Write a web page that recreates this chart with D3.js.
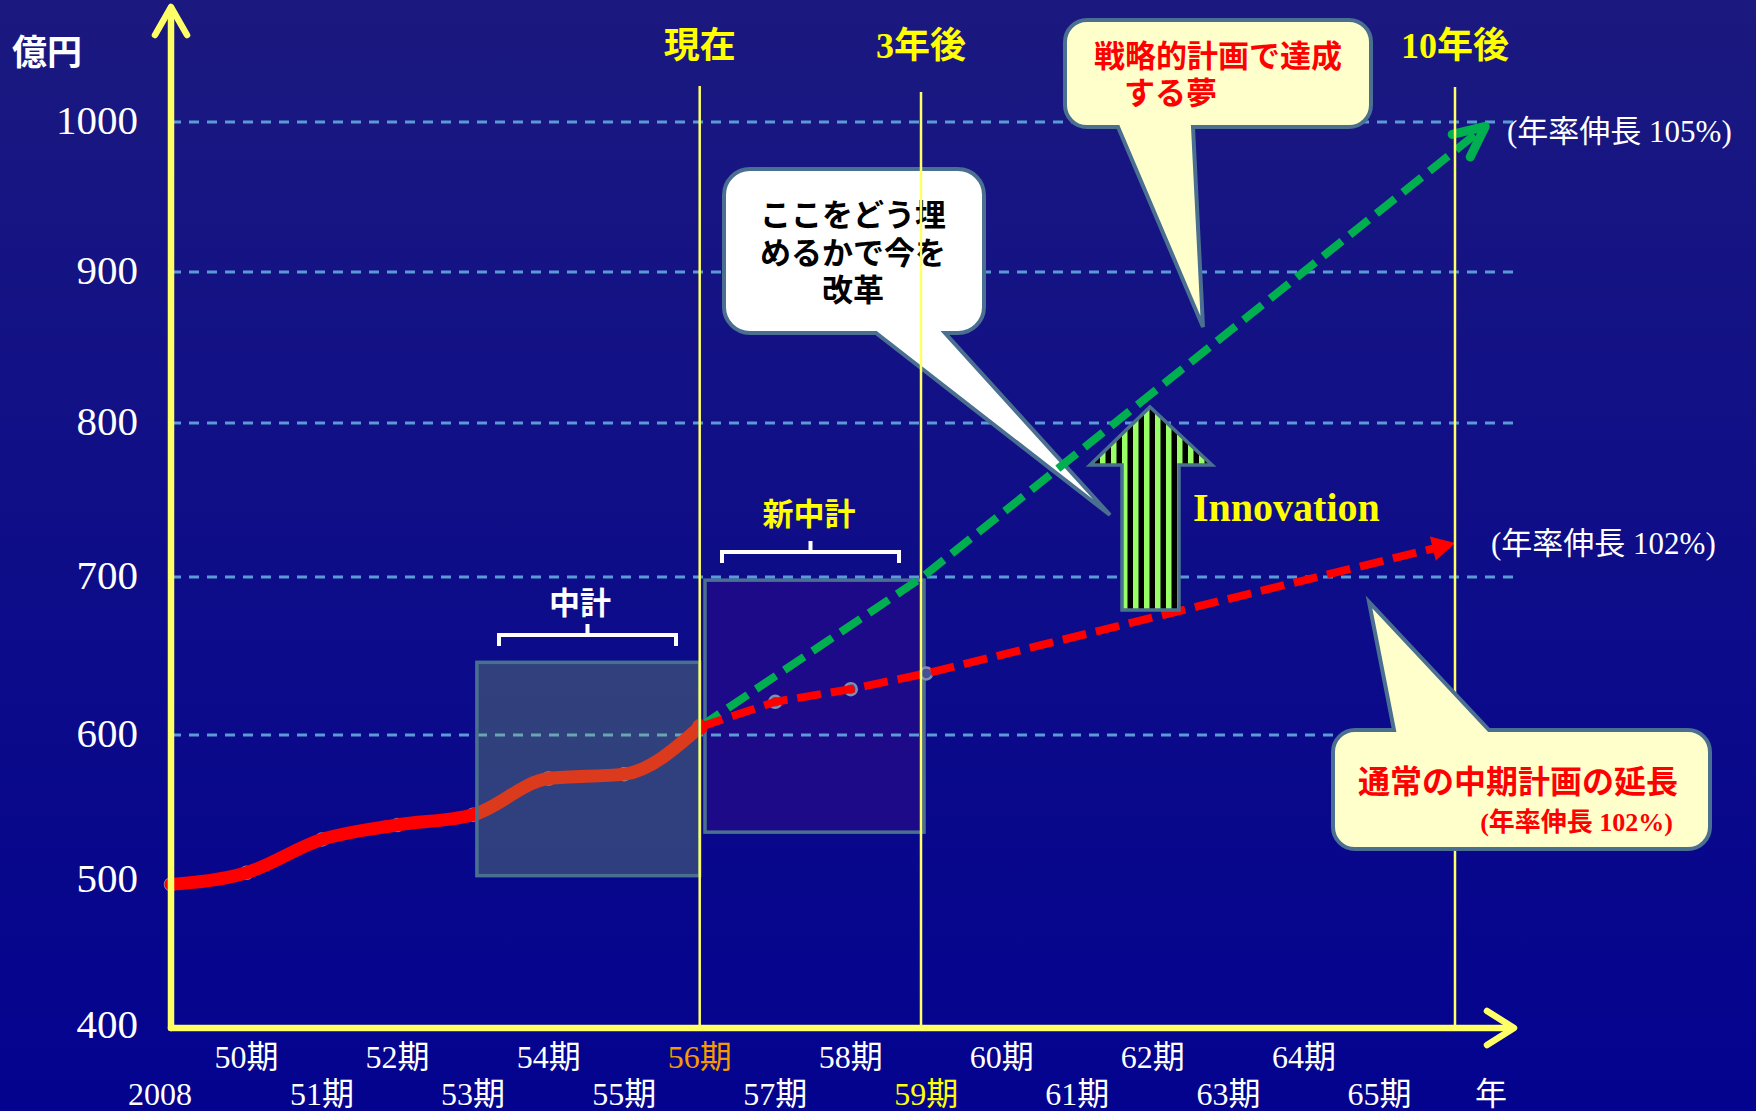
<!DOCTYPE html>
<meta charset="utf-8" />
<style>
  body { margin: 0; background: #0a0a88; }
  text { font-family: "Liberation Serif", "DejaVu Serif", "Noto Sans CJK JP", serif; }
  .grid { stroke: #5b9bd5; stroke-width: 3px; stroke-dasharray: 10 8; }
  .vline { stroke: #ffff66; stroke-width: 2.5px; }
  .axis { stroke: #ffff66; stroke-width: 6.5px; fill: none; stroke-linecap: round; stroke-linejoin: round; }
  .callout { stroke: #4a6f91; stroke-width: 4px; }
</style>
<body>
  <script src="https://d3js.org/d3.v7.min.js"></script>
  <script>
    // ---- data ----
    var periods = [49, 50, 51, 52, 53, 54, 55, 56, 57, 58, 59, 60, 61, 62, 63, 64, 65];
    var periodLabels = ['2008', '50期', '51期', '52期', '53期', '54期', '55期', '56期',
      '57期', '58期', '59期', '60期', '61期', '62期', '63期', '64期', '65期'];
    var yTicks = [400, 500, 600, 700, 800, 900, 1000];
    var gridValues = [600, 700, 800, 900, 1000];

    // actual sales (億円), 2008 .. 56期
    var actualPeriods = [49, 50, 51, 52, 53, 54, 55, 56];
    var actualValues = [497, 505, 528, 538, 545, 570, 573, 605];

    // extension of the usual mid-term plan (年率伸長 102%)
    var plan102Periods = [56, 57, 58, 59, 66];
    var plan102Values = [605, 621, 629, 639, 722];

    // strategic plan (年率伸長 105%)
    var plan105Periods = [56, 58.95, 66.4];
    var plan105Values = [605, 700, 997];

    // milestones
    var milestonePeriods = [56, 58.93, 66];
    var milestoneLabels = ['現在', '3年後', '10年後'];

    // plan periods (box spans)
    var planNames = ['中計', '新中計'];
    var planFrom = [53.05, 56.07];
    var planTo = [56, 58.97];
    var planLow = [503, 533];
    var planHigh = [646, 698];

    // ---- scales ----
    var W = 1756, H = 1111;
    var x = d3.scaleLinear().domain([49, 66]).range([171, 1455]);
    var y = d3.scaleLinear()
      .domain([400, 500, 600, 700, 800, 900, 1000])
      .range([1026, 880, 735, 577, 423, 272, 122]);

    var svg = d3.select('body').append('svg')
      .attr('width', W).attr('height', H);

    var defs = svg.append('defs');
    var bg = defs.append('linearGradient').attr('id', 'bg')
      .attr('x1', 0).attr('y1', 0).attr('x2', 0).attr('y2', 1);
    bg.append('stop').attr('offset', '0%').attr('stop-color', '#1b197f');
    bg.append('stop').attr('offset', '55%').attr('stop-color', '#0d0c89');
    bg.append('stop').attr('offset', '100%').attr('stop-color', '#03038f');

    var stripes = defs.append('pattern').attr('id', 'stripes')
      .attr('patternUnits', 'userSpaceOnUse')
      .attr('x', 1122).attr('y', 0).attr('width', 11).attr('height', 20);
    stripes.append('rect').attr('width', 11).attr('height', 20).attr('fill', '#000');
    stripes.append('rect').attr('width', 5.5).attr('height', 20).attr('fill', '#99ff66');

    svg.append('rect').attr('width', W).attr('height', H).attr('fill', 'url(#bg)');

    // 新中計 box (under the grid)
    svg.append('rect')
      .attr('x', x(planFrom[1])).attr('y', y(planHigh[1]))
      .attr('width', x(planTo[1]) - x(planFrom[1]))
      .attr('height', y(planLow[1]) - y(planHigh[1]))
      .attr('fill', '#1c0a88').attr('stroke', '#4a7090').attr('stroke-width', 3.5);

    // grid lines
    svg.selectAll('.grid').data(gridValues).enter().append('line')
      .attr('class', 'grid')
      .attr('x1', x(49)).attr('x2', 1518)
      .attr('y1', function(d) { return y(d); })
      .attr('y2', function(d) { return y(d); });

    // white callout (behind the milestone lines)
    function calloutPath(bx, by, bw, bh, r, edge, pa, pb, tx, ty) {
      var p = d3.path();
      p.moveTo(bx + r, by);
      if (edge === 'top') { p.lineTo(pa, by); p.lineTo(tx, ty); p.lineTo(pb, by); }
      p.lineTo(bx + bw - r, by);
      p.arcTo(bx + bw, by, bx + bw, by + r, r);
      p.lineTo(bx + bw, by + bh - r);
      p.arcTo(bx + bw, by + bh, bx + bw - r, by + bh, r);
      if (edge === 'bottom') { p.lineTo(pb, by + bh); p.lineTo(tx, ty); p.lineTo(pa, by + bh); }
      p.lineTo(bx + r, by + bh);
      p.arcTo(bx, by + bh, bx, by + bh - r, r);
      p.lineTo(bx, by + r);
      p.arcTo(bx, by, bx + r, by, r);
      p.closePath();
      return p.toString();
    }

    svg.append('path').attr('class', 'callout')
      .attr('d', calloutPath(724, 169, 260, 164, 26, 'bottom', 876, 945, 1110, 515))
      .attr('fill', '#ffffff');
    var c1 = svg.append('text').attr('text-anchor', 'middle')
      .attr('font-weight', 'bold').attr('font-size', 31).attr('fill', '#000');
    [['ここをどう埋', 215], ['めるかで今を', 253], ['改革', 290]].forEach(function(l) {
      c1.append('tspan').attr('x', 853).attr('y', l[1]).attr('dy', '0.36em').text(l[0]);
    });

    // markers at data points
    var markerPts = actualPeriods.map(function(p, i) { return [p, actualValues[i]]; })
      .concat([[57, 621], [58, 629], [59, 639]]);
    svg.selectAll('.mk').data(markerPts).enter().append('circle')
      .attr('cx', function(d) { return x(d[0]); })
      .attr('cy', function(d) { return y(d[1]); })
      .attr('r', 6).attr('fill', '#45509a').attr('stroke', '#7f8fb0').attr('stroke-width', 2.5);

    // 105% line (green dashed)
    var g105 = plan105Periods.map(function(p, i) { return [x(p), y(plan105Values[i])]; });
    svg.append('path')
      .attr('d', d3.line()(g105))
      .attr('fill', 'none').attr('stroke', '#00b050').attr('stroke-width', 8)
      .attr('stroke-dasharray', '24 10');
    (function() {
      var a = g105[g105.length - 1], b = g105[g105.length - 2];
      var ang = Math.atan2(b[1] - a[1], b[0] - a[0]), L = 34, s = 0.44;
      var arm = [[a[0] + L * Math.cos(ang - s), a[1] + L * Math.sin(ang - s)], a,
        [a[0] + L * Math.cos(ang + s), a[1] + L * Math.sin(ang + s)]];
      svg.append('path').attr('d', d3.line()(arm)).attr('fill', 'none')
        .attr('stroke', '#00b050').attr('stroke-width', 9)
        .attr('stroke-linecap', 'round').attr('stroke-linejoin', 'round');
    })();

    // 102% line (red dashed)
    var r102 = plan102Periods.map(function(p, i) { return [x(p), y(plan102Values[i])]; });
    svg.append('path')
      .attr('d', d3.line()(r102))
      .attr('fill', 'none').attr('stroke', '#ff0000').attr('stroke-width', 8)
      .attr('stroke-dasharray', '24 10');
    (function() {
      var a = r102[r102.length - 1], b = r102[r102.length - 2];
      var ang = Math.atan2(b[1] - a[1], b[0] - a[0]), L = 26, s = 0.5;
      var tri = [a, [a[0] + L * Math.cos(ang - s), a[1] + L * Math.sin(ang - s)],
        [a[0] + L * Math.cos(ang + s), a[1] + L * Math.sin(ang + s)]];
      svg.append('path').attr('d', d3.line()(tri) + 'Z').attr('fill', '#ff0000');
    })();

    // actual line (solid red)
    var actualLine = d3.line()
      .x(function(d, i) { return x(actualPeriods[i]); })
      .y(function(d) { return y(d); })
      .curve(d3.curveMonotoneX);
    svg.append('path')
      .attr('d', actualLine(actualValues))
      .attr('fill', 'none').attr('stroke', '#ff0000').attr('stroke-width', 13)
      .attr('stroke-linecap', 'round');
    svg.append('circle').attr('cx', x(56)).attr('cy', y(605)).attr('r', 8).attr('fill', '#ff0000');

    // 中計 box (translucent overlay)
    svg.append('rect')
      .attr('x', x(planFrom[0])).attr('y', y(planHigh[0]))
      .attr('width', x(planTo[0]) - x(planFrom[0]))
      .attr('height', y(planLow[0]) - y(planHigh[0]))
      .attr('fill', '#8cc060').attr('fill-opacity', 0.3)
      .attr('stroke', '#4a7090').attr('stroke-width', 3.5);

    // milestone vertical lines + labels
    var mTop = [86, 92, 87];
    svg.selectAll('.vline').data(milestonePeriods).enter().append('line')
      .attr('class', 'vline')
      .attr('x1', function(d) { return x(d); }).attr('x2', function(d) { return x(d); })
      .attr('y1', function(d, i) { return mTop[i]; }).attr('y2', y(400));
    svg.selectAll('.mlabel').data(milestonePeriods).enter().append('text')
      .attr('x', function(d) { return x(d); }).attr('y', 45).attr('dy', '0.35em')
      .attr('text-anchor', 'middle').attr('font-size', 36).attr('font-weight', 'bold')
      .attr('fill', '#ffff00')
      .text(function(d, i) { return milestoneLabels[i]; });

    // braces + plan labels
    function brace(x1, x2, yy, color) {
      var xc = (x1 + x2) / 2;
      svg.append('path')
        .attr('d', 'M' + x1 + ',' + (yy + 11) + 'V' + yy + 'H' + x2 + 'V' + (yy + 11) +
          'M' + xc + ',' + yy + 'V' + (yy - 11))
        .attr('fill', 'none').attr('stroke', color).attr('stroke-width', 4);
    }
    brace(499, 676, 635, '#ffffff');
    brace(722, 899, 552, '#ffffff');
    svg.append('text').attr('x', 580).attr('y', 603).attr('dy', '0.36em')
      .attr('text-anchor', 'middle').attr('font-size', 31).attr('font-weight', 'bold')
      .attr('fill', '#ffffff').text(planNames[0]);
    svg.append('text').attr('x', 809).attr('y', 514).attr('dy', '0.36em')
      .attr('text-anchor', 'middle').attr('font-size', 31).attr('font-weight', 'bold')
      .attr('fill', '#ffff00').text(planNames[1]);

    // Innovation arrow
    svg.append('path')
      .attr('d', 'M1150,407L1212,465H1179V610H1122V465H1090Z')
      .attr('fill', 'url(#stripes)').attr('stroke', '#4a7090').attr('stroke-width', 3.5);
    svg.append('text').attr('x', 1193).attr('y', 521)
      .attr('font-size', 40).attr('font-weight', 'bold').attr('fill', '#ffff00')
      .text('Innovation');

    // yellow callouts
    svg.append('path').attr('class', 'callout')
      .attr('d', calloutPath(1065, 20, 306, 107, 22, 'bottom', 1118, 1193, 1203, 327))
      .attr('fill', '#ffffcc');
    svg.append('text').attr('x', 1218).attr('y', 56).attr('dy', '0.36em')
      .attr('text-anchor', 'middle').attr('font-size', 31).attr('font-weight', 'bold')
      .attr('fill', '#ff0000').text('戦略的計画で達成');
    svg.append('text').attr('x', 1124).attr('y', 93).attr('dy', '0.36em')
      .attr('font-size', 31).attr('font-weight', 'bold')
      .attr('fill', '#ff0000').text('する夢');

    svg.append('path').attr('class', 'callout')
      .attr('d', calloutPath(1333, 730, 377, 119, 22, 'top', 1394, 1489, 1369, 602))
      .attr('fill', '#ffffcc');
    svg.append('text').attr('x', 1518).attr('y', 781).attr('dy', '0.36em')
      .attr('text-anchor', 'middle').attr('font-size', 32).attr('font-weight', 'bold')
      .attr('fill', '#ff0000').text('通常の中期計画の延長');
    svg.append('text').attr('x', 1673).attr('y', 822).attr('dy', '0.36em')
      .attr('text-anchor', 'end').attr('font-size', 26).attr('font-weight', 'bold')
      .attr('fill', '#ff0000').text('(年率伸長 102%)');

    // growth-rate labels at the arrow heads
    svg.append('text').attr('x', 1507).attr('y', 131).attr('dy', '0.36em')
      .attr('font-size', 31).attr('fill', '#ffffff').text('(年率伸長 105%)');
    svg.append('text').attr('x', 1491).attr('y', 543).attr('dy', '0.36em')
      .attr('font-size', 31).attr('fill', '#ffffff').text('(年率伸長 102%)');

    // axes
    svg.append('path').attr('class', 'axis')
      .attr('d', 'M' + x(49) + ',' + (y(400) + 2) + 'V8');
    svg.append('path').attr('class', 'axis')
      .attr('d', 'M' + (x(49) - 16) + ',35L' + x(49) + ',7L' + (x(49) + 16) + ',35');
    svg.append('path').attr('class', 'axis')
      .attr('d', 'M' + x(49) + ',' + (y(400) + 2) + 'H1512');
    svg.append('path').attr('class', 'axis')
      .attr('d', 'M1487,' + (y(400) - 15) + 'L1514,' + (y(400) + 2) + 'L1487,' + (y(400) + 19));

    // y tick labels
    svg.selectAll('.ytick').data(yTicks).enter().append('text')
      .attr('x', 138).attr('y', function(d) { return y(d) - 2; }).attr('dy', '0.35em')
      .attr('text-anchor', 'end').attr('font-size', 41).attr('fill', '#ffffff')
      .text(function(d) { return d; });
    svg.append('text').attr('x', 47).attr('y', 52).attr('dy', '0.36em')
      .attr('text-anchor', 'middle').attr('font-size', 35).attr('font-weight', 'bold')
      .attr('fill', '#ffffff').text('億円');

    // x tick labels (two staggered rows)
    svg.selectAll('.xtick').data(periods).enter().append('text')
      .attr('x', function(d) { return d === 49 ? x(d) - 11 : x(d); })
      .attr('y', function(d) { return d % 2 === 0 ? 1056 : 1093; })
      .attr('dy', '0.36em').attr('text-anchor', 'middle').attr('font-size', 32)
      .attr('fill', function(d) { return d === 56 ? '#f59a00' : d === 59 ? '#ffff00' : '#ffffff'; })
      .text(function(d, i) { return periodLabels[i]; });
    svg.append('text').attr('x', 1491).attr('y', 1093).attr('dy', '0.36em')
      .attr('text-anchor', 'middle').attr('font-size', 32).attr('fill', '#ffffff').text('年');
  </script>
</body>
